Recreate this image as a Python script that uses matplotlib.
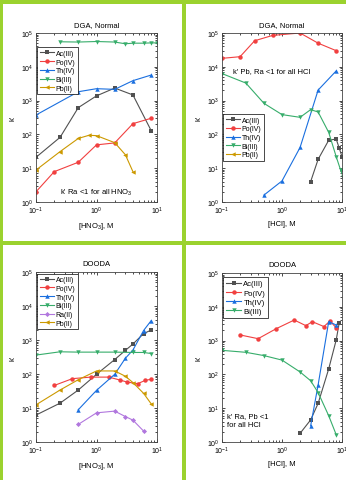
import matplotlib

matplotlib.use("Agg")

import matplotlib.pyplot as plt
from matplotlib.patches import Rectangle

plt.rcParams["font.family"] = ["Liberation Sans", "DejaVu Sans"]
plt.rcParams["mathtext.fontset"] = "custom"
plt.rcParams["mathtext.rm"] = "Liberation Sans"

W, H = 346, 481

# ---- DGA, Normal, HNO3 ----
dga_hno3 = {
    "Ac(III)": ([0.1, 0.25, 0.5, 1, 2, 4, 8], [21, 82, 620, 1380, 2350, 1470, 130]),
    "Po(IV)": ([0.1, 0.2, 0.5, 1, 2, 4, 8], [2.0, 7.9, 15, 49, 56, 208, 300]),
    "Th(IV)": ([0.1, 0.5, 1, 2, 4, 8], [375, 1830, 2250, 2150, 3890, 5700]),
    "Bi(III)": ([0.25, 0.5, 1, 2, 3, 4, 6, 8, 10],
                [55000, 54000, 56000, 54000, 48000, 50000, 50000, 51000, 51000]),
    "Pb(II)": ([0.1, 0.25, 0.5, 0.75, 1, 2, 3, 4], [8.8, 31, 76, 94, 92, 57, 25, 7.9]),
}

# ---- DGA, Normal, HCl ----
dga_hcl = {
    "Ac(III)": ([3, 4, 6, 8, 9, 10], [4.0, 18.3, 67, 73, 39, 22]),
    "Po(IV)": ([0.1, 0.2, 0.35, 0.7, 2, 4, 8], [17800, 19900, 59000, 85000, 100000, 50000, 30000]),
    "Th(IV)": ([0.5, 1, 2, 4, 8], [1.6, 4.2, 41, 2050, 7550]),
    "Bi(III)": ([0.1, 0.25, 0.5, 1, 2, 3, 4, 6, 8, 9.5, 10.5],
                [6300, 3300, 830, 385, 320, 540, 460, 115, 22, 8.7, 5.5]),
    "Pb(II)": ([], []),
}

# ---- DOODA, HNO3 ----
dooda_hno3 = {
    "Ac(III)": ([0.1, 0.25, 0.5, 1, 2, 3, 4, 6, 8], [6.2, 13.9, 33.8, 98, 266, 495, 760, 1540, 1960]),
    "Po(IV)": ([0.2, 0.4, 0.8, 1.6, 2.4, 3.2, 4.8, 6.4, 8], [46, 73, 81, 81, 67, 58, 52, 65, 70]),
    "Th(IV)": ([0.5, 1, 2, 3, 4, 6, 8], [8.9, 33, 98, 290, 505, 1900, 3700]),
    "Bi(III)": ([0.1, 0.25, 0.5, 1, 2, 4, 6, 8], [360, 450, 440, 440, 440, 430, 430, 400]),
    "Ra(II)": ([0.5, 1, 2, 3, 4, 6], [3.3, 7.2, 8.1, 5.6, 4.4, 2.1]),
    "Pb(II)": ([0.1, 0.25, 0.5, 1, 2, 3, 4, 6, 8], [12.4, 33.8, 68, 123, 123, 86, 56, 27, 13.3]),
}

# ---- DOODA, HCl ----
dooda_hcl = {
    "Ac(III)": ([2, 3, 4, 6, 8, 9], [1.8, 4.5, 13.9, 145, 1040, 3400]),
    "Po(IV)": ([0.2, 0.4, 0.8, 1.6, 2.5, 3.2, 5, 6.3, 8],
               [1470, 1140, 2250, 4060, 2770, 3630, 2600, 3800, 2400]),
    "Th(IV)": ([3, 4, 6, 8], [3.0, 49, 3640, 2900]),
    "Bi(III)": ([0.1, 0.25, 0.5, 1, 2, 3, 4, 6, 8], [515, 450, 360, 265, 118, 65, 29, 6.0, 1.65]),
}

STYLE = {
    "Ac(III)": ("#515151", "s"),
    "Po(IV)": ("#F14040", "o"),
    "Th(IV)": ("#1A6FDF", "^"),
    "Bi(III)": ("#37AD6B", "v"),
    "Ra(II)": ("#B177DE", "D"),
    "Pb(II)": ("#CC9900", "<"),
}

GREEN = "#9BD22E"

fig = plt.figure(figsize=(W / 100, H / 100), dpi=100)
fig.patch.set_facecolor("white")


def px_axes(left, right, top, bottom):
    return fig.add_axes([left / W, 1 - bottom / H, (right - left) / W, (bottom - top) / H])


def draw_panel(ax, data, title, xlabel, leg_anchor, leg_size=5):
    for name, (x, y) in data.items():
        color, marker = STYLE[name]
        ms = 2.6 if marker == "D" else 3.2
        ax.plot(x, y, color=color, marker=marker, ms=ms, lw=0.8, label=name,
                markeredgewidth=0)
    ax.set_xscale("log")
    ax.set_yscale("log")
    ax.set_xlim(0.1, 10)
    ax.set_ylim(1, 1e5)
    ax.set_title(title, fontsize=5.5, pad=5)
    ax.set_xlabel(xlabel, fontsize=5.5, labelpad=3)
    ax.set_ylabel("k'", fontsize=5.5, labelpad=3)
    ax.tick_params(which="both", direction="in", top=True, right=True,
                   labelsize=5, width=0.5, pad=2)
    ax.tick_params(which="major", length=2.5)
    ax.tick_params(which="minor", length=1.3)
    for spine in ax.spines.values():
        spine.set_linewidth(0.6)
        spine.set_color("#444444")
    leg = ax.legend(loc="upper left", bbox_to_anchor=leg_anchor, fontsize=leg_size,
                    frameon=True, fancybox=False, edgecolor="black", framealpha=1,
                    borderpad=0.35, labelspacing=0.25, handlelength=2.0,
                    handletextpad=0.3, borderaxespad=0)
    leg.get_frame().set_linewidth(0.5)


ax1 = px_axes(36, 157, 34, 203)
draw_panel(ax1, dga_hno3, "DGA, Normal", "[HNO$_3$], M", (0.01, 0.915))
ax1.text(0.2, 0.06, "k' Ra <1 for all HNO$_3$", transform=ax1.transAxes,
         fontsize=5.5, va="center", ha="left")

ax2 = px_axes(222, 342, 34, 203)
draw_panel(ax2, dga_hcl, "DGA, Normal", "[HCl], M", (0.01, 0.52))
ax2.text(0.09, 0.78, "k' Pb, Ra <1 for all HCl", transform=ax2.transAxes,
         fontsize=5.5, va="center", ha="left")

ax3 = px_axes(36, 157, 273, 443)
draw_panel(ax3, dooda_hno3, "DOODA", "[HNO$_3$], M", (0.01, 0.99))

ax4 = px_axes(222, 342, 274, 443)
draw_panel(ax4, dooda_hcl, "DOODA", "[HCl], M", (0.01, 0.975), leg_size=5.5)
ax4.text(0.04, 0.13, "k' Ra, Pb <1\nfor all HCl", transform=ax4.transAxes,
         fontsize=5.5, va="center", ha="left", linespacing=1.4)

# green panel separators
for (x0, y0, w, h) in [(0, 0, W, 5), (0, 0, 2.5, H), (182, 0, 4, H), (0, 242, W, 4)]:
    fig.add_artist(Rectangle((x0 / W, 1 - (y0 + h) / H), w / W, h / H,
                             transform=fig.transFigure, facecolor=GREEN,
                             edgecolor="none", zorder=10))

fig.savefig("out.png", dpi=100)
